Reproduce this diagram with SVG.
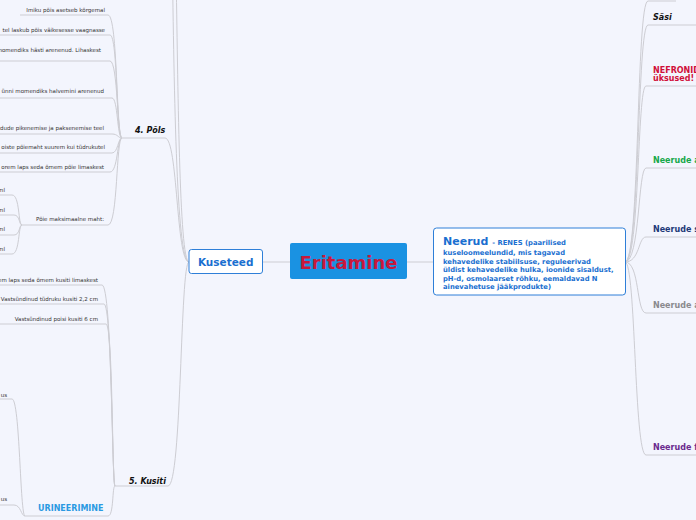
<svg xmlns="http://www.w3.org/2000/svg" width="696" height="520" viewBox="0 0 696 520">
<style>
.bg{fill:#f3f5fd}
.ln{fill:none;stroke:#cdcdd3;stroke-width:1}
.lt{font-family:"DejaVu Sans",Verdana,sans-serif;font-size:5.5px;fill:#333}
.lb{font-family:"DejaVu Sans",Verdana,sans-serif;font-size:8px;font-weight:bold}
.it{font-style:italic;fill:#111}
.nb{font-family:"DejaVu Sans",Verdana,sans-serif;font-weight:bold;fill:#1a6fd0}
</style>
<rect class="bg" x="0" y="0" width="696" height="520"/>
<g id="connectors">
<path class="ln" d="M263 262 H290"/>
<path class="ln" d="M407 262 H433"/>
<path class="ln" d="M189 262 C176 262 174 80 172 -60"/>
<path class="ln" d="M189 262 C179 262 178 80 176 -30"/>
<path class="ln" d="M122 138 H165 C178 138 176 262 189 262"/>
<path class="ln" d="M115 486 H168 C182 486 180 262 189 262"/>
<path class="ln" d="M20 15 H108 C118 15 116 138 122 138"/>
<path class="ln" d="M0 35 H110 C118 35 116 138 122 138"/>
<path class="ln" d="M0 61 H110 C118 61 117 138 122 138"/>
<path class="ln" d="M0 98 H112 C118 98 117 138 122 138"/>
<path class="ln" d="M0 134 H112 C118 134 118 138 122 138"/>
<path class="ln" d="M0 153 H112 C118 153 118 138 122 138"/>
<path class="ln" d="M0 172 H110 C118 172 117 138 122 138"/>
<path class="ln" d="M22 225 H108 C118 225 116 138 122 138"/>
<path class="ln" d="M0 195 H12 C20 195 18 225 22 225"/>
<path class="ln" d="M0 215 H14 C20 215 19 225 22 225"/>
<path class="ln" d="M0 235 H14 C20 235 19 225 22 225"/>
<path class="ln" d="M0 254 H12 C20 254 18 225 22 225"/>
<path class="ln" d="M0 285 H102 C112 285 112 486 115 486"/>
<path class="ln" d="M0 304 H104 C112 304 112 486 115 486"/>
<path class="ln" d="M0 324 H106 C113 324 112 486 115 486"/>
<path class="ln" d="M25 516 H108 C114 516 112 486 115 486"/>
<path class="ln" d="M0 399 H12 C20 399 20 516 25 516"/>
<path class="ln" d="M0 505 H14 C21 505 21 516 25 516"/>
<path class="ln" d="M625 262 C640 262 636 1 648 1 H676"/>
<path class="ln" d="M625 262 C640 262 637 25 648 25 H696"/>
<path class="ln" d="M625 262 C640 262 637 86 646 86 H696"/>
<path class="ln" d="M625 262 C640 262 638 168 646 168 H696"/>
<path class="ln" d="M625 262 C640 262 638 237 646 237 H696"/>
<path class="ln" d="M625 262 C640 262 636 313 646 313 H696"/>
<path class="ln" d="M625 262 C636 262 634 455 646 455 H696"/>
</g>
<g id="eritamine">
<rect x="290" y="243" width="117" height="36" rx="2" fill="#1a92e2"/>
<text x="348.5" y="268.5" text-anchor="middle" font-family="'DejaVu Sans',Verdana,sans-serif" font-size="18" font-weight="bold" fill="#c8173c">Eritamine</text>
</g>
<g id="kuseteed">
<rect x="189" y="249.5" width="73.5" height="24" rx="2.5" fill="#fff" stroke="#2e7fd8" stroke-width="1"/>
<text x="225.7" y="265.5" text-anchor="middle" class="nb" font-size="10.5">Kuseteed</text>
</g>
<g id="neerud">
<rect x="433.5" y="228" width="192" height="67" rx="3" fill="#fff" stroke="#2e7fd8" stroke-width="1"/>
<text x="443" y="244.5" class="nb"><tspan font-size="11">Neerud</tspan><tspan font-size="6.8" dx="4">- RENES (paarilised</tspan></text>
<text class="nb" font-size="6.8"><tspan x="443" y="255">kuseloomeelundid, mis tagavad</tspan><tspan x="443" y="263.5">kehavedelike stabiilsuse, reguleerivad</tspan><tspan x="443" y="272">üldist kehavedelike hulka, ioonide sisaldust,</tspan><tspan x="443" y="280.5">pH-d, osmolaarset rõhku, eemaldavad N</tspan><tspan x="443" y="289">ainevahetuse jääkprodukte)</tspan></text>
</g>
<g id="pols">
<text x="135" y="133" class="lb it">4. Põls</text>
</g>
<g id="pols-children">
<text x="105" y="12" class="lt" text-anchor="end">Imiku põis asetseb kõrgemal</text>
<text x="105" y="31.5" class="lt" text-anchor="end">tel laskub põis väikesesse vaagnasse</text>
<text x="101" y="51.5" class="lt" text-anchor="end">momendiks hästi arenenud. Lihaskest</text>
<text x="104" y="93" class="lt" text-anchor="end">ünni momendiks halvemini arenenud</text>
<text x="104" y="130" class="lt" text-anchor="end">dude pikenemise ja paksenemise teel</text>
<text x="105" y="149" class="lt" text-anchor="end">oiste põiemaht suurem kui tüdrukutel</text>
<text x="104" y="168.5" class="lt" text-anchor="end">orem laps seda õmem põie limaskest</text>
</g>
<g id="poie-maht">
<text x="104" y="221" class="lt" text-anchor="end" font-size="5.8">Põie maksimaalne maht:</text>
<text x="5" y="192" class="lt" text-anchor="end">ml</text>
<text x="5" y="211.5" class="lt" text-anchor="end">ml</text>
<text x="5" y="231" class="lt" text-anchor="end">ml</text>
<text x="5" y="250.5" class="lt" text-anchor="end">ml</text>
</g>
<g id="kusiti">
<text x="129" y="483.5" class="lb it">5. Kusiti</text>
</g>
<g id="kusiti-children">
<text x="98" y="281.5" class="lt" text-anchor="end">em laps seda õmem kusiti limaskest</text>
<text x="98" y="300.5" class="lt" text-anchor="end">Vastsündinud tüdruku kusiti 2,2 cm</text>
<text x="98" y="320.5" class="lt" text-anchor="end">Vastsündinud poisi kusiti 6 cm</text>
</g>
<g id="urineerimine">
<text x="38" y="511" class="lb" fill="#2a9ae2">URINEERIMINE</text>
<text x="7" y="396.5" class="lt" text-anchor="end">us</text>
<text x="7" y="500.5" class="lt" text-anchor="end">us</text>
</g>
<g id="sasi">
<text x="653" y="20" class="lb it">Säsi</text>
</g>
<g id="nefronid">
<text class="lb" fill="#d0103a"><tspan x="653" y="73">NEFRONID</tspan><tspan x="653" y="81">üksused!</tspan></text>
</g>
<g id="neerude-a1">
<text x="653" y="163" class="lb" fill="#16a84a">Neerude a</text>
</g>
<g id="neerude-s">
<text x="653" y="232" class="lb" fill="#1d3a78">Neerude s</text>
</g>
<g id="neerude-a2">
<text x="653" y="308" class="lb" fill="#8a8a8e">Neerude a</text>
</g>
<g id="neerude-f">
<text x="653" y="450" class="lb" fill="#6a2b8e">Neerude f</text>
</g>
</svg>
